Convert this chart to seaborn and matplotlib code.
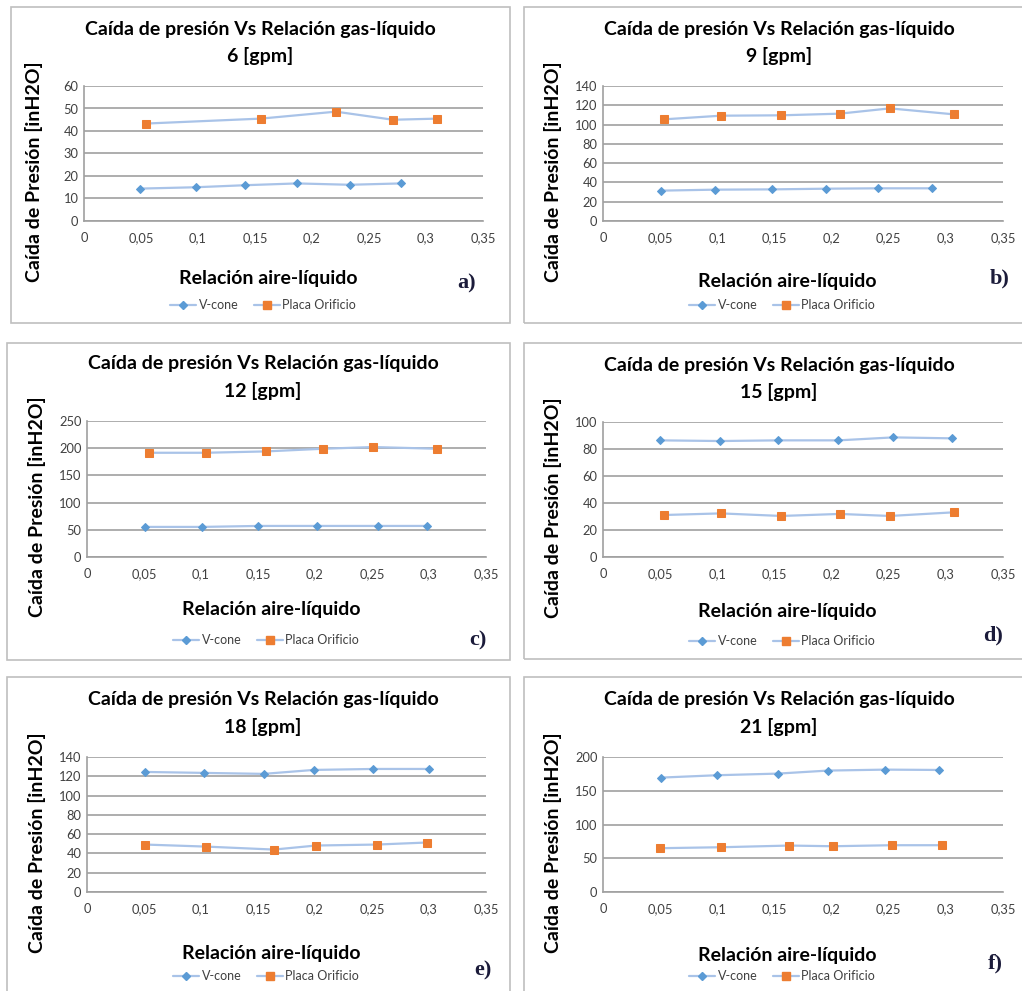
import matplotlib
matplotlib.use("Agg")
import matplotlib.pyplot as plt
from matplotlib.patches import Rectangle
from matplotlib.lines import Line2D
import pandas as pd
import seaborn as sns

# Datos (relacion aire-liquido vs caida de presion)
caudales = [6, 9, 12, 15, 18, 21]
letras = ["a)", "b)", "c)", "d)", "e)", "f)"]
y_max = [60, 140, 250, 100, 140, 200]
y_paso = [10, 20, 50, 20, 20, 50]
x_ticks = [0, 0.05, 0.1, 0.15, 0.2, 0.25, 0.3, 0.35]
x_ticklabels = ["0", "0,05", "0,1", "0,15", "0,2", "0,25", "0,3", "0,35"]

vcone_x = [
    [0.049, 0.098, 0.141, 0.187, 0.233, 0.278],
    [0.051, 0.098, 0.148, 0.195, 0.241, 0.288],
    [0.051, 0.101, 0.150, 0.202, 0.255, 0.298],
    [0.050, 0.102, 0.153, 0.206, 0.254, 0.305],
    [0.051, 0.103, 0.155, 0.199, 0.251, 0.300],
    [0.051, 0.100, 0.153, 0.197, 0.247, 0.294],
]
vcone_y = [
    [14.4, 15.0, 15.9, 16.7, 16.1, 16.7],
    [31.5, 32.5, 32.8, 33.5, 33.9, 33.9],
    [55.3, 55.3, 57.1, 57.1, 57.1, 57.1],
    [86.4, 85.9, 86.4, 86.4, 88.6, 87.9],
    [124.5, 123.5, 122.5, 126.6, 127.6, 127.6],
    [169.5, 173.0, 175.4, 179.9, 181.3, 180.8],
]
placa_x = [
    [0.054, 0.155, 0.221, 0.271, 0.310],
    [0.053, 0.103, 0.156, 0.207, 0.251, 0.307],
    [0.054, 0.104, 0.157, 0.207, 0.251, 0.307],
    [0.053, 0.103, 0.156, 0.207, 0.251, 0.307],
    [0.051, 0.104, 0.164, 0.201, 0.254, 0.298],
    [0.050, 0.103, 0.163, 0.201, 0.253, 0.297],
]
placa_y = [
    [43.3, 45.5, 48.6, 45.0, 45.5],
    [105.4, 109.2, 109.6, 111.3, 116.8, 110.6],
    [191.6, 191.6, 194.1, 199.0, 202.1, 199.0],
    [31.1, 32.3, 30.4, 31.9, 30.4, 33.1],
    [49.2, 47.1, 44.0, 48.2, 49.2, 51.3],
    [64.9, 66.3, 68.8, 67.8, 69.3, 69.3],
]

W, H = 1022, 991
# marcos (x0, y0, x1, y1) y areas de grafico en pixeles
marcos = [(11, 7, 510, 323), (524, 7, 1030, 323), (7, 343, 510, 660),
          (524, 343, 1030, 659), (7, 677, 510, 1000), (524, 677, 1030, 1000)]
areas = [(84, 86, 483, 221), (603, 86, 1003, 221), (87, 421, 486, 557),
         (603, 422, 1003, 557), (87, 757, 486, 892), (603, 757, 1003, 892)]
xlabel_y = [279, 282, 610, 612, 953, 955]
letra_pos = [(467, 283), (1000, 278), (478, 640), (993, 635), (483, 970), (995, 963)]

sns.set_style("white")
plt.rcParams["font.family"] = ["Lato", "DejaVu Sans"]

c_linea = "#A9C3E8"
c_vcone = "#5B9BD5"
c_placa = "#ED7D31"
c_grid = "#A0A0A0"
c_texto = "#404040"
t_bold = 14

fig = plt.figure(figsize=(W / 100, H / 100), dpi=100)


def fx(x):
    return x / W


def fy(y):
    return 1 - y / H


for i in range(6):
    x0, y0, x1, y1 = marcos[i]
    fig.patches.append(Rectangle((fx(x0), fy(y1)), fx(x1 - x0), (y1 - y0) / H,
                                 transform=fig.transFigure, fill=False,
                                 edgecolor="#BFBFBF", lw=1.2))
    l, t, r, b = areas[i]
    ax = fig.add_axes([fx(l), fy(b), fx(r - l), (b - t) / H])

    df_v = pd.DataFrame({"x": vcone_x[i], "y": vcone_y[i]})
    df_p = pd.DataFrame({"x": placa_x[i], "y": placa_y[i]})
    sns.lineplot(data=df_v, x="x", y="y", ax=ax, color=c_linea, lw=1.6,
                 marker="D", markersize=4.3, markerfacecolor=c_vcone,
                 markeredgecolor=c_vcone, sort=False, estimator=None)
    sns.lineplot(data=df_p, x="x", y="y", ax=ax, color=c_linea, lw=1.6,
                 marker="s", markersize=5.3, markerfacecolor=c_placa,
                 markeredgecolor=c_placa, sort=False, estimator=None)

    ax.set_xlim(0, 0.35)
    ax.set_ylim(0, y_max[i])
    ax.set_xticks(x_ticks)
    ax.set_xticklabels(x_ticklabels)
    ax.set_yticks(range(0, y_max[i] + 1, y_paso[i]))
    ax.tick_params(axis="both", length=0, labelsize=9.3, labelcolor=c_texto, pad=8)
    ax.tick_params(axis="y", pad=4)
    ax.grid(axis="y", color=c_grid, lw=1.2)
    ax.set_axisbelow(True)
    for s in ["top", "right"]:
        ax.spines[s].set_visible(False)
    ax.spines["left"].set_color(c_grid)
    ax.spines["bottom"].set_color(c_grid)
    ax.spines["left"].set_linewidth(1.2)
    ax.spines["bottom"].set_linewidth(1.2)
    ax.set_xlabel("")
    ax.set_ylabel("")

    # titulos y etiquetas
    cx = l + 176
    fig.text(fx(cx), fy(t - 57), "Caída de presión Vs Relación gas-líquido",
             ha="center", va="center", fontsize=t_bold, fontweight="bold", color="black")
    fig.text(fx(cx), fy(t - 30), f"{caudales[i]} [gpm]",
             ha="center", va="center", fontsize=t_bold, fontweight="bold", color="black")
    fig.text(fx(l - 50), fy((t + b) / 2 + 18), "Caída de Presión [inH2O]",
             rotation=90, ha="center", va="center", fontsize=t_bold,
             fontweight="bold", color="black")
    fig.text(fx(l + 184), fy(xlabel_y[i]), "Relación aire-líquido",
             ha="center", va="center", fontsize=t_bold, fontweight="bold", color="black")
    lx, ly = letra_pos[i]
    fig.text(fx(lx), fy(ly), letras[i], ha="center", va="center", fontsize=16,
             fontweight="bold", color="#1B1B3A", family=["Liberation Serif", "DejaVu Serif"])

    handles = [
        Line2D([], [], color=c_linea, lw=1.6, marker="D", markersize=4.3,
               markerfacecolor=c_vcone, markeredgecolor=c_vcone),
        Line2D([], [], color=c_linea, lw=1.6, marker="s", markersize=5.3,
               markerfacecolor=c_placa, markeredgecolor=c_placa),
    ]
    fig.legend(handles, ["V-cone", "Placa Orificio"], loc="center",
               bbox_to_anchor=(fx(l + 179), fy(t + 219)), ncol=2, frameon=False,
               fontsize=9, labelcolor=c_texto, handlelength=2.1,
               columnspacing=1.2, handletextpad=0.2)

fig.savefig("out.png", dpi=100)
